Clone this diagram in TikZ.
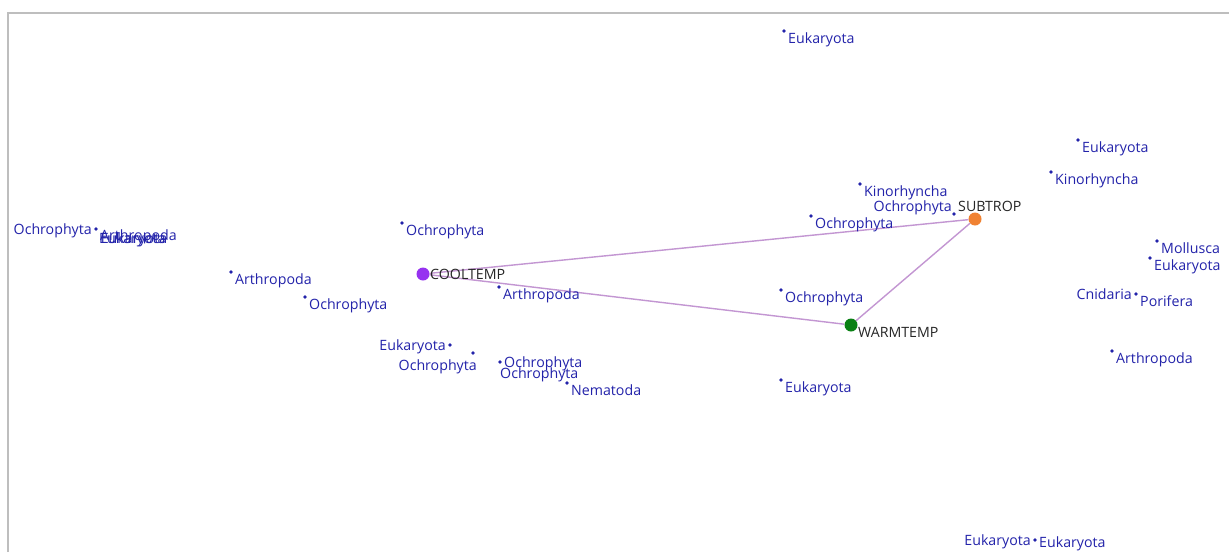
\documentclass[tikz,border=0pt]{standalone}
\usepackage{fontspec}
\setmainfont{Open Sans}
\definecolor{labblue}{RGB}{35,35,170}
\definecolor{edgecol}{RGB}{195,150,210}
\definecolor{coolcol}{RGB}{150,50,240}
\definecolor{subcol}{RGB}{240,130,50}
\definecolor{warmcol}{RGB}{10,128,20}
\definecolor{framecol}{RGB}{190,190,190}
\begin{document}
\begin{tikzpicture}[x=1pt,y=-1pt,
  dot/.style={circle,fill=labblue,inner sep=0pt,minimum size=3.6pt},
  rlab/.style={anchor=mid west,inner sep=0pt,text=labblue,font=\fontsize{14.2}{16}\selectfont,xshift=4pt,yshift=-10pt},
  llab/.style={anchor=mid east,inner sep=0pt,text=labblue,font=\fontsize{14.2}{16}\selectfont,xshift=-4pt,yshift=-3pt},
  bignode/.style={circle,inner sep=0pt,minimum size=13pt},
  clab/.style={inner sep=0pt,text=black!85,font=\fontsize{14.2}{16}\selectfont},
  edge/.style={draw=edgecol,line width=1.4pt}]
\useasboundingbox (0,0) rectangle (1229,552);
\fill[white] (0,0) rectangle (1229,552);
\coordinate (fa) at (8,552);
\coordinate (fb) at (8,13);
\coordinate (fc) at (1229,13);
\draw[framecol,line width=2pt] (fa) -- (fb) -- (fc);
% main nodes
\node[bignode,fill=coolcol] (cool) at (423,274) {};
\node[bignode,fill=subcol] (sub) at (975,219) {};
\node[bignode,fill=warmcol] (warm) at (851,325) {};
\draw[edge] (cool) -- (sub);
\draw[edge] (cool) -- (warm);
\draw[edge] (warm) -- (sub);
\node[clab,anchor=mid west] (coolt) at (430,277) {COOLTEMP};
\node[clab,anchor=mid west] (subt) at (958,209) {SUBTROP};
\node[clab,anchor=mid west] (warmt) at (858,335) {WARMTEMP};
% taxa
\node[dot] (d1) at (784,31) {};
\node[rlab] (t1) at (d1) {Eukaryota};
\node[dot] (d2) at (1078,140) {};
\node[rlab] (t2) at (d2) {Eukaryota};
\node[dot] (d3) at (1051,172) {};
\node[rlab] (t3) at (d3) {Kinorhyncha};
\node[dot] (d4) at (860,184) {};
\node[rlab] (t4) at (d4) {Kinorhyncha};
\node[dot] (d5) at (954,214) {};
\node[llab,yshift=8pt,xshift=2pt] (t5) at (d5) {Ochrophyta};
\node[dot] (d6) at (811,216) {};
\node[rlab] (t6) at (d6) {Ochrophyta};
\node[dot] (d8) at (402,223) {};
\node[rlab] (t8) at (d8) {Ochrophyta};
\node[dot] (d9) at (96,229) {};
\node[llab] (t9) at (d9) {Ochrophyta};
\node[rlab,yshift=1pt] (t9b) at (d9) {Arthropoda};
\node[rlab,yshift=-2pt,xshift=-1pt] (t9c) at (d9) {Eukaryota};
\node[rlab,yshift=-2pt,xshift=0.6pt] (t9d) at (d9) {Eukaryota};
\node[dot] (d11) at (1157,241) {};
\node[rlab] (t11) at (d11) {Mollusca};
\node[dot] (d12) at (1150,258) {};
\node[rlab] (t12) at (d12) {Eukaryota};
\node[dot] (d13) at (231,272) {};
\node[rlab] (t13) at (d13) {Arthropoda};
\node[dot] (d15) at (499,287) {};
\node[rlab] (t15) at (d15) {Arthropoda};
\node[dot] (d16) at (781,290) {};
\node[rlab] (t16) at (d16) {Ochrophyta};
\node[dot] (d17) at (1136,294) {};
\node[llab] (t17) at (d17) {Cnidaria};
\node[rlab] (t17b) at (d17) {Porifera};
\node[dot] (d18) at (305,297) {};
\node[rlab] (t18) at (d18) {Ochrophyta};
\node[dot] (d20) at (450,345) {};
\node[llab] (t20) at (d20) {Eukaryota};
\node[dot] (d21) at (473,353) {};
\node[llab,yshift=-12pt,xshift=8pt] (t21) at (d21) {Ochrophyta};
\node[dot] (d22) at (500,362) {};
\node[rlab,yshift=7pt] (t22) at (d22) {Ochrophyta};
\node[rlab,yshift=-4pt,xshift=-4pt] (t22b) at (d22) {Ochrophyta};
\node[dot] (d23) at (1112,351) {};
\node[rlab] (t23) at (d23) {Arthropoda};
\node[dot] (d24) at (567,383) {};
\node[rlab] (t24) at (d24) {Nematoda};
\node[dot] (d25) at (781,380) {};
\node[rlab] (t25) at (d25) {Eukaryota};
\node[dot] (d26) at (1035,540) {};
\node[llab] (t26) at (d26) {Eukaryota};
\node[rlab,yshift=5pt] (t26b) at (d26) {Eukaryota};
\end{tikzpicture}
\end{document}
